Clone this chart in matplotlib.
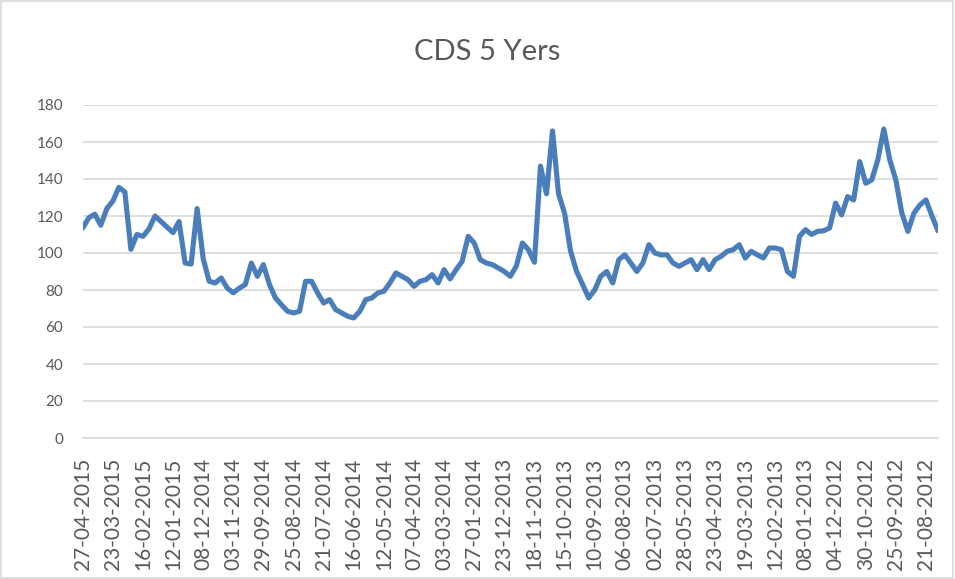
import matplotlib
matplotlib.use("Agg")
import matplotlib.pyplot as plt
from matplotlib.patches import Rectangle

title = "CDS 5 Yers"

# weekly CDS 5Y values, newest (27-04-2015) first
cds_values = [
    113.5, 119, 121, 115, 124, 128, 135.5, 133, 102, 110,
    109, 113, 120, 117, 114, 111, 117, 94.6, 94, 124,
    97, 84.7, 83.8, 86.5, 81, 78.5, 81, 83, 94.6, 87.4,
    93.7, 83, 75.7, 72, 68.5, 67.6, 68.5, 84.7, 84.7, 78.4,
    73, 74.8, 69.4, 67.6, 65.8, 64.9, 68.5, 74.8, 75.7, 78.4,
    79.3, 83.8, 89.2, 87.4, 85.6, 82, 84.7, 85.6, 88.3, 83.8,
    91, 86, 91, 95.5, 109, 105.4, 96.4, 94.6, 93.7, 91.9,
    90, 87.4, 93, 105.4, 101.8, 95, 147, 132, 166, 132,
    121.5, 101, 90, 83, 75.7, 80, 87.4, 90, 83.8, 96.4,
    99, 94.6, 90, 94.6, 104.5, 100, 99, 99, 94.6, 92.8,
    94.6, 96.4, 91, 96.4, 91, 96.4, 98.2, 100.9, 101.8, 104.5,
    97.3, 100.9, 99, 97.3, 102.7, 102.7, 101.8, 90, 87.4, 109,
    112.6, 110, 111.7, 112, 113.5, 127, 120.6, 130.5, 128.7, 149.4,
    137.7, 139.5, 150.3, 167, 150.3, 139.5, 121.5, 111.7, 121.5, 126,
    128.7, 120, 112,
]

tick_labels = [
    "27-04-2015", "23-03-2015", "16-02-2015", "12-01-2015", "08-12-2014",
    "03-11-2014", "29-09-2014", "25-08-2014", "21-07-2014", "16-06-2014",
    "12-05-2014", "07-04-2014", "03-03-2014", "27-01-2014", "23-12-2013",
    "18-11-2013", "15-10-2013", "10-09-2013", "06-08-2013", "02-07-2013",
    "28-05-2013", "23-04-2013", "19-03-2013", "12-02-2013", "08-01-2013",
    "04-12-2012", "30-10-2012", "25-09-2012", "21-08-2012",
]
tick_step = 5
y_ticks = [0, 20, 40, 60, 80, 100, 120, 140, 160, 180]

W, H = 955, 579
fig = plt.figure(figsize=(W / 100, H / 100), dpi=100)
fig.patch.set_facecolor("white")
ax = fig.add_axes([82.7 / W, (H - 438) / H, (938 - 82.7) / W, (438 - 105) / H])

x = list(range(len(cds_values)))
ax.plot(x, cds_values, color="#4A7EBB", linewidth=3.7, solid_joinstyle="round",
        solid_capstyle="round", zorder=3)

ax.set_xlim(0, len(cds_values) - 1)
ax.set_ylim(0, 180)
ax.set_yticks(y_ticks)
ax.set_yticklabels([str(v) for v in y_ticks], fontsize=11, color="#595959",
                   family="Lato")
ax.set_xticks([i * tick_step for i in range(len(tick_labels))])
ax.set_xticklabels(tick_labels, rotation=90, fontsize=15, color="#595959",
                   family="Lato")
ax.tick_params(axis="both", length=0)
ax.tick_params(axis="y", pad=14)
ax.tick_params(axis="x", pad=14)
ax.grid(axis="y", color="#D9D9D9", linewidth=1.2)
ax.set_axisbelow(True)
for s in ["top", "right", "left"]:
    ax.spines[s].set_visible(False)
ax.spines["bottom"].set_color("#D9D9D9")
ax.spines["bottom"].set_linewidth(1.2)

fig.text(487 / W, 1 - 52 / H, title, ha="center", va="center", fontsize=21,
         color="#595959", family="Lato")

fig.patches.append(Rectangle((0.001, 0.002), 0.997, 0.996, transform=fig.transFigure,
                             fill=False, edgecolor="#D9D9D9", linewidth=1.2))

fig.savefig("out.png", dpi=100, facecolor="white")
